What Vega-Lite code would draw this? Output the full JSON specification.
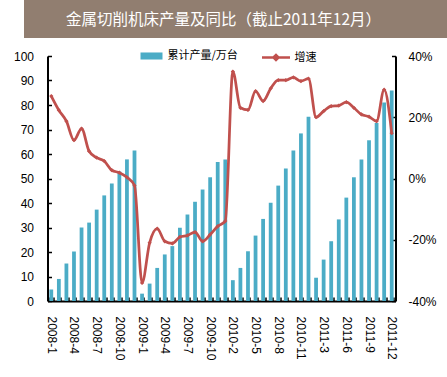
{
  "$schema": "https://vega.github.io/schema/vega-lite/v6.json",
  "padding": 0,
  "background": "white",
  "spacing": 4,
  "center": true,
  "bounds": "full",
  "resolve": {"legend": {"fill": "independent", "stroke": "independent"}},
  "config": {"view": {"stroke": null}, "font": "Liberation Sans"},
  "vconcat": [
    {
      "width": 447,
      "height": 38,
      "view": {"fill": "#917E70", "stroke": null},
      "data": {"values": [{"t": "金属切削机床产量及同比（截止2011年12月）"}]},
      "mark": {"type": "text", "color": "white", "font": "Noto Sans CJK SC", "fontSize": 15.5, "baseline": "middle", "align": "center", "dx": -24, "dy": 1},
      "encoding": {"text": {"field": "t", "type": "nominal"}}
    },
    {
      "width": 348,
      "height": 245,
      "data": {"values": [
        {"m": "2008-1", "v": 4.7, "g": 26.9},
        {"m": "2008-2", "v": 9.0, "g": 22.3},
        {"m": "2008-3", "v": 15.3, "g": 18.7},
        {"m": "2008-4", "v": 20.2, "g": 12.5},
        {"m": "2008-5", "v": 30.0, "g": 16.3},
        {"m": "2008-6", "v": 32.0, "g": 8.9},
        {"m": "2008-7", "v": 37.3, "g": 6.8},
        {"m": "2008-8", "v": 43.1, "g": 5.7},
        {"m": "2008-9", "v": 48.0, "g": 2.7},
        {"m": "2008-10", "v": 52.9, "g": 1.9},
        {"m": "2008-11", "v": 57.8, "g": 0.4},
        {"m": "2008-12", "v": 61.4, "g": -2.3},
        {"m": "2009-1", "v": 3.0, "g": -34.1},
        {"m": "2009-2", "v": 7.1, "g": -21.0},
        {"m": "2009-3", "v": 13.5, "g": -16.4},
        {"m": "2009-4", "v": 19.0, "g": -20.5},
        {"m": "2009-5", "v": 22.4, "g": -21.2},
        {"m": "2009-6", "v": 29.9, "g": -19.1},
        {"m": "2009-7", "v": 35.3, "g": -18.6},
        {"m": "2009-8", "v": 40.5, "g": -17.5},
        {"m": "2009-9", "v": 45.5, "g": -20.5},
        {"m": "2009-10", "v": 50.5, "g": -18.3},
        {"m": "2009-11", "v": 56.7, "g": -15.6},
        {"m": "2009-12", "v": 57.8, "g": -13.9},
        {"m": "2010-2", "v": 8.5, "g": 34.9},
        {"m": "2010-3", "v": 13.5, "g": 23.1},
        {"m": "2010-4", "v": 20.3, "g": 22.4},
        {"m": "2010-5", "v": 26.7, "g": 28.5},
        {"m": "2010-6", "v": 33.5, "g": 25.3},
        {"m": "2010-7", "v": 40.1, "g": 29.4},
        {"m": "2010-8", "v": 47.1, "g": 32.1},
        {"m": "2010-9", "v": 54.1, "g": 32.1},
        {"m": "2010-10", "v": 61.4, "g": 33.0},
        {"m": "2010-11", "v": 68.4, "g": 31.8},
        {"m": "2010-12", "v": 75.2, "g": 32.6},
        {"m": "2011-2", "v": 9.5, "g": 20.0},
        {"m": "2011-3", "v": 16.9, "g": 22.0},
        {"m": "2011-4", "v": 24.4, "g": 23.6},
        {"m": "2011-5", "v": 33.3, "g": 23.8},
        {"m": "2011-6", "v": 42.2, "g": 24.9},
        {"m": "2011-7", "v": 50.5, "g": 23.1},
        {"m": "2011-8", "v": 57.8, "g": 20.9},
        {"m": "2011-9", "v": 65.6, "g": 20.2},
        {"m": "2011-10", "v": 72.7, "g": 18.7},
        {"m": "2011-11", "v": 81.0, "g": 29.0},
        {"m": "2011-12", "v": 85.9, "g": 14.8}
      ]},
      "layer": [
        {
          "mark": {"type": "bar"},
          "encoding": {
            "x": {
              "field": "m", "type": "ordinal", "sort": null,
              "scale": {"paddingInner": 0.5, "paddingOuter": 0.25},
              "axis": {
                "title": null,
                "labelAngle": 90,
                "labelAlign": "left",
                "labelBaseline": "middle",
                "labelFontSize": 12,
                "labelColor": "#000000",
                "labelPadding": 19,
                "labelOverlap": false,
                "labelExpr": "indexof(['2008-1','2008-4','2008-7','2008-10','2009-1','2009-4','2009-7','2009-10','2010-2','2010-5','2010-8','2010-11','2011-3','2011-6','2011-9','2011-12'], datum.label) >= 0 ? datum.label : ''",
                "tickBand": "extent",
                "tickSize": -4,
                "tickColor": "#000000",
                "tickWidth": 1.5,
                "domainColor": "#000000",
                "domainWidth": 2
              }
            },
            "y": {
              "field": "v", "type": "quantitative",
              "scale": {"domain": [0, 100]},
              "axis": {
                "title": null,
                "values": [0, 10, 20, 30, 40, 50, 60, 70, 80, 90, 100],
                "grid": false,
                "labelFontSize": 12,
                "labelColor": "#000000",
                "labelPadding": 18,
                "tickSize": -4,
                "tickColor": "#000000",
                "tickWidth": 1.5,
                "domainColor": "#000000",
                "domainWidth": 2,
                "minExtent": 47
              }
            },
            "fill": {
              "datum": "累计产量/万台",
              "scale": {"range": ["#4BACC6"]},
              "legend": {
                "orient": "none", "legendX": 93, "legendY": -11,
                "title": null, "padding": 0,
                "symbolType": "M-1,-0.32H1V0.32H-1Z", "symbolSize": 484,
                "symbolStrokeWidth": 0,
                "labelFont": "Noto Sans CJK SC", "labelFontSize": 11,
                "labelColor": "#000000", "labelOffset": 5
              }
            }
          }
        },
        {
          "layer": [
            {
              "mark": {"type": "line", "interpolate": "monotone", "strokeWidth": 2.75},
              "encoding": {
                "x": {"field": "m", "type": "ordinal", "sort": null},
                "y": {
                  "field": "g", "type": "quantitative",
                  "scale": {"domain": [-40, 40]},
                  "axis": {
                    "orient": "right",
                    "title": null,
                    "values": [-40, -30, -20, -10, 0, 10, 20, 30, 40],
                    "labelExpr": "datum.value + '%'",
                    "grid": false,
                    "labelFontSize": 12,
                    "labelColor": "#000000",
                    "labelPadding": 16.5,
                    "tickSize": -4,
                    "tickColor": "#000000",
                    "tickWidth": 1.5,
                    "domainColor": "#000000",
                    "domainWidth": 2,
                    "minExtent": 52
                  }
                },
                "stroke": {
                  "datum": "增速",
                  "scale": {"range": ["#C0504D"]},
                  "legend": {
                    "orient": "none", "legendX": 213, "legendY": -14,
                    "title": null, "padding": 0,
                    "symbolType": "M-1,0H1M-0.18,0L0,-0.18L0.18,0L0,0.18Z", "symbolSize": 784,
                    "symbolStrokeWidth": 2.5, "symbolFillColor": "#C0504D",
                    "labelFont": "Noto Sans CJK SC", "labelFontSize": 11,
                    "labelColor": "#000000", "labelOffset": 3
                  }
                }
              }
            },
            {
              "mark": {"type": "point", "shape": "diamond", "filled": true, "size": 18, "color": "#C0504D", "opacity": 1},
              "encoding": {
                "x": {"field": "m", "type": "ordinal", "sort": null},
                "y": {"field": "g", "type": "quantitative"}
              }
            }
          ]
        }
      ],
      "resolve": {"scale": {"y": "independent"}}
    }
  ]
}
